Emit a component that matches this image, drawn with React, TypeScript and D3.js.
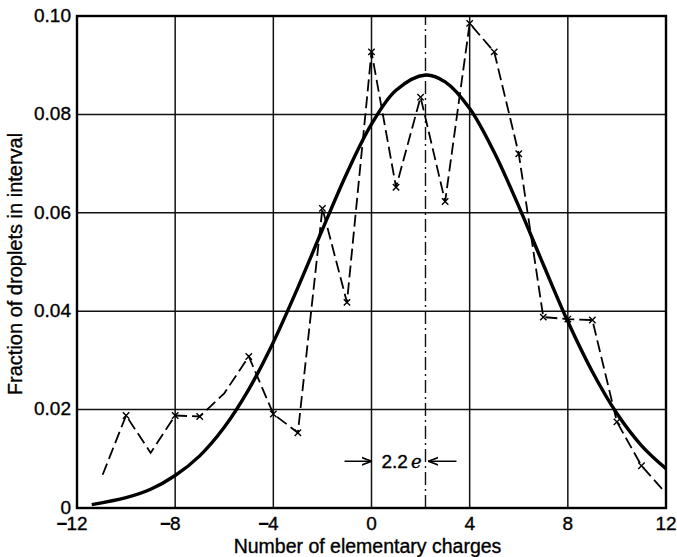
import React from "react";
import * as d3 from "d3";

// Observed fraction of droplets per charge interval
const chargeValues = [-11, -10, -9, -8, -7, -6, -5, -4, -3, -2, -1, 0, 1, 2, 3, 4, 5, 6, 7, 8, 9, 10, 11, 12];
const fractionValues = [0.0062, 0.0188, 0.0112, 0.0188, 0.0186, 0.0233, 0.0308, 0.0191, 0.0153, 0.0609, 0.0418, 0.0927, 0.0652, 0.0835, 0.0623, 0.0985, 0.0927, 0.072, 0.0388, 0.0384, 0.0382, 0.0175, 0.0086, 0.003];
const markedPoints = [false, true, false, true, true, false, true, true, true, true, true, true, true, true, true, true, true, true, true, true, true, true, true, false];

// Smooth distribution curve, sampled along the charge axis
const curveCharges = [-11.4, -10, -9, -8, -7, -6, -5, -4, -3, -2, -1, 0, 1, 2.2, 3, 4, 5, 6, 7, 8, 9, 10, 11, 12];
const curveFractions = [0.0007, 0.0021, 0.0038, 0.0066, 0.0106, 0.0164, 0.0241, 0.0337, 0.0448, 0.0566, 0.0681, 0.078, 0.0849, 0.088, 0.0866, 0.0812, 0.0723, 0.0613, 0.0495, 0.0379, 0.0277, 0.0192, 0.0127, 0.008];

const xTicks = [-12, -8, -4, 0, 4, 8, 12];
const yTicks = [0, 0.02, 0.04, 0.06, 0.08, 0.1];
const yTickLabels = ["0", "0.02", "0.04", "0.06", "0.08", "0.10"];
const meanCharge = 2.2;
const meanLabel = "2.2";

const W = 677;
const H = 557;
const margin = { left: 77, right: 11, top: 16, bottom: 49 };
const FONT = "'Liberation Sans', Arial, sans-serif";
const tickSize = 19;
const textStroke = { stroke: "#000", strokeWidth: 0.35 };

export default function App() {
  const x = d3.scaleLinear().domain([-12, 12]).range([margin.left, W - margin.right]);
  const y = d3.scaleLinear().domain([0, 0.1]).range([H - margin.bottom, margin.top]);

  const obs = chargeValues.map((c, i) => ({ c, f: fractionValues[i], m: markedPoints[i] }));
  const fit = curveCharges.map((c, i) => ({ c, f: curveFractions[i] }));

  const dashedLine = d3
    .line<{ c: number; f: number }>()
    .x((d) => x(d.c))
    .y((d) => y(d.f));
  const smoothLine = d3
    .line<{ c: number; f: number }>()
    .x((d) => x(d.c))
    .y((d) => y(d.f))
    .curve(d3.curveCatmullRom.alpha(0.5));

  const x0 = x.range()[0];
  const x1 = x.range()[1];
  const y0 = y.range()[0];
  const y1 = y.range()[1];
  const arrowY = y(0.0095);
  const meanX = x(meanCharge);
  const zeroX = x(0);

  return (
    <div style={{ position: "absolute", left: 0, top: 0 }}>
      <svg width={W} height={H} style={{ display: "block", background: "#fff" }}>
        <defs>
          <marker id="arrowHead" viewBox="0 0 10 10" refX="10" refY="5" markerWidth="10" markerHeight="10" markerUnits="userSpaceOnUse" orient="auto">
            <path d="M0,1.2 L10,5 L0,8.8" fill="none" stroke="#000" strokeWidth={1.6} />
          </marker>
        </defs>

        {/* grid */}
        {xTicks.map((t) => (
          <line key={"gx" + t} x1={x(t)} x2={x(t)} y1={y0} y2={y1} stroke="#111" strokeWidth={1.5} />
        ))}
        {yTicks.map((t) => (
          <line key={"gy" + t} x1={x0} x2={x1} y1={y(t)} y2={y(t)} stroke="#111" strokeWidth={1.5} />
        ))}

        {/* mean charge marker line */}
        <line x1={meanX} x2={meanX} y1={y0} y2={y1} stroke="#111" strokeWidth={1.4} strokeDasharray="13 4 2 4" />

        {/* fitted distribution */}
        <path d={smoothLine(fit) || ""} fill="none" stroke="#000" strokeWidth={3.4} strokeLinejoin="round" />

        {/* observed distribution */}
        <path d={dashedLine(obs) || ""} fill="none" stroke="#000" strokeWidth={1.8} strokeDasharray="12 5" strokeDashoffset={-3} />
        {obs
          .filter((d) => d.m)
          .map((d) => {
            const cx = x(d.c);
            const cy = y(d.f);
            const s = 3.2;
            return (
              <path
                key={"m" + d.c}
                d={`M${cx - s},${cy - s}L${cx + s},${cy + s}M${cx - s},${cy + s}L${cx + s},${cy - s}`}
                stroke="#000"
                strokeWidth={1.4}
                fill="#fff"
              />
            );
          })}

        {/* frame */}
        <rect x={x0} y={y1} width={x1 - x0} height={y0 - y1} fill="none" stroke="#000" strokeWidth={2.4} />

        {/* y tick labels */}
        {yTicks.map((t, i) => (
          <text key={"ly" + t} x={x0 - 6} y={y(t)} dy="0.3em" textAnchor="end" fontFamily={FONT} fontSize={tickSize} fill="#000" {...textStroke}>
            {yTickLabels[i]}
          </text>
        ))}

        {/* x tick labels: digits centred on the gridline, minus sign hanging left */}
        {xTicks.map((t) => {
          const digits = String(Math.abs(t));
          const half = (digits.length * 0.556 * tickSize) / 2;
          return (
            <g key={"lx" + t}>
              <text x={x(t)} y={y0 + 22} textAnchor="middle" fontFamily={FONT} fontSize={tickSize} fill="#000" {...textStroke}>
                {digits}
              </text>
              {t < 0 && (
                <text x={x(t) - half + 1} y={y0 + 22} textAnchor="end" fontFamily={FONT} fontSize={tickSize} fontWeight="bold" fill="#000">
                  {"\u2212"}
                </text>
              )}
            </g>
          );
        })}

        {/* axis titles */}
        <text x={(x0 + x1) / 2 - 4} y={H - 4} textAnchor="middle" fontFamily={FONT} fontSize={19.5} fill="#000" {...textStroke}>
          Number of elementary charges
        </text>
        <text
          transform={`translate(22,${(y0 + y1) / 2 + 2}) rotate(-90)`}
          textAnchor="middle"
          fontFamily={FONT}
          fontSize={20}
          fill="#000"
          {...textStroke}
        >
          Fraction of droplets in interval
        </text>

        {/* mean offset annotation */}
        <line x1={zeroX - 27} x2={zeroX} y1={arrowY} y2={arrowY} stroke="#000" strokeWidth={1.5} markerEnd="url(#arrowHead)" />
        <line x1={meanX + 31} x2={meanX + 3} y1={arrowY} y2={arrowY} stroke="#000" strokeWidth={1.5} markerEnd="url(#arrowHead)" />
        <text x={zeroX + 10} y={arrowY + 7} fontFamily={FONT} fontSize={19} fill="#000" {...textStroke}>
          {meanLabel}
          <tspan dx={3} fontStyle="italic" fontFamily="'DejaVu Serif', serif" fontSize={18}>
            e
          </tspan>
        </text>
      </svg>
    </div>
  );
}
